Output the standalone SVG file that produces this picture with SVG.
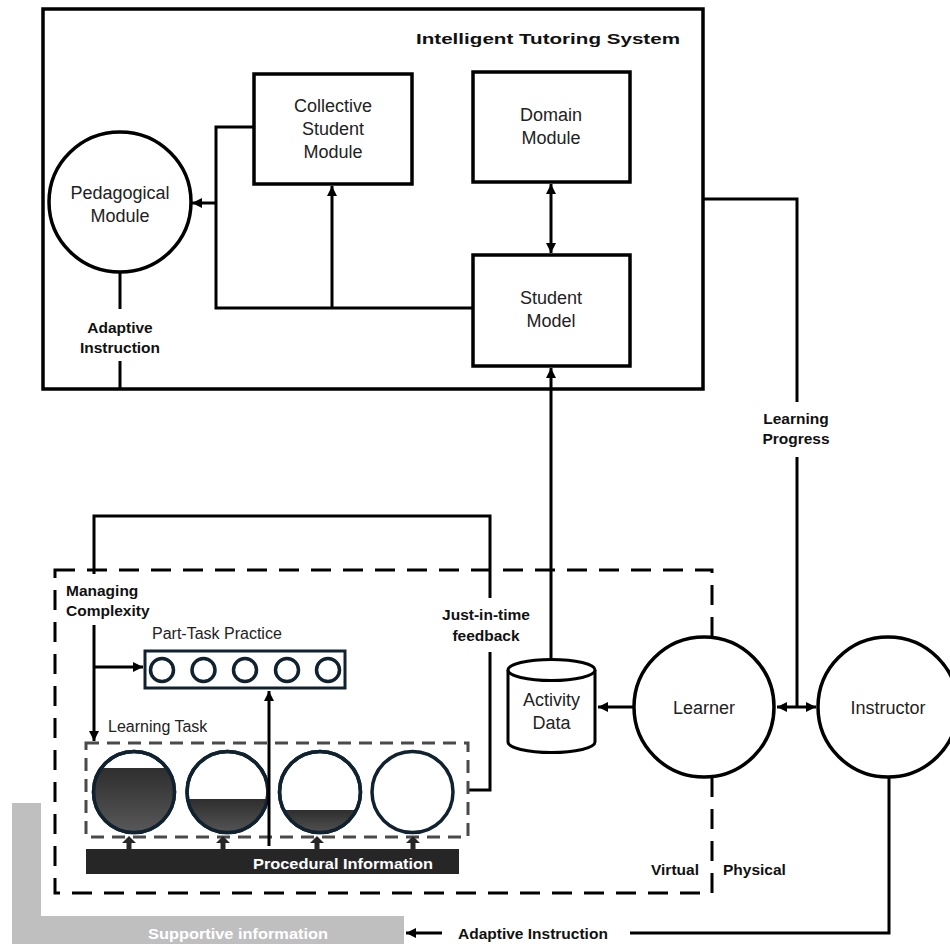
<svg xmlns="http://www.w3.org/2000/svg" width="950" height="944" viewBox="0 0 950 944">
  <defs>
    <style>
      .ln { fill: none; stroke: #000; stroke-width: 3; }
      .box { fill: #fff; stroke: #000; stroke-width: 3.5; }
      .t { font-family: "Liberation Sans", Arial, sans-serif; font-size: 18px; fill: #222; text-anchor: middle; }
      .b { font-family: "Liberation Sans", Arial, sans-serif; font-size: 15.5px; font-weight: bold; fill: #111; }
      .s { font-family: "Liberation Sans", Arial, sans-serif; font-size: 16px; fill: #222; }
      .c { text-anchor: middle; }
      .slate { fill: #fff; stroke: #10222f; stroke-width: 3.5; }
      .dash { fill: none; stroke: #000; stroke-width: 3; stroke-dasharray: 20 12; }
      .gdash { fill: none; stroke: #4a4a4a; stroke-width: 3; stroke-dasharray: 13 8; }
      .white { fill: #fff; }
    </style>
    <marker id="arr" viewBox="0 0 10 10" refX="10" refY="5" markerWidth="11" markerHeight="10" markerUnits="userSpaceOnUse" orient="auto-start-reverse">
      <path d="M0,0 L10,5 L0,10 z" fill="#000"/>
    </marker>
    <linearGradient id="fillGrad" x1="0" y1="0" x2="0" y2="1">
      <stop offset="0" stop-color="#2e2e2e"/>
      <stop offset="1" stop-color="#5c5c5c"/>
    </linearGradient>
    <clipPath id="c1"><circle cx="134" cy="792" r="40"/></clipPath>
    <clipPath id="c2"><circle cx="227.5" cy="792" r="40"/></clipPath>
    <clipPath id="c3"><circle cx="320" cy="792" r="40"/></clipPath>
  </defs>

  <!-- supportive information band -->
  <g id="supportive">
    <rect x="12" y="803" width="29" height="141" fill="#bfbfbf"/>
    <rect x="12" y="916" width="392" height="28" fill="#bfbfbf"/>
    <text class="b white" x="148" y="938.5" font-size="16" textLength="180" lengthAdjust="spacingAndGlyphs">Supportive information</text>
  </g>

  <!-- virtual environment boundary -->
  <g id="virtual-boundary">
    <rect class="dash" x="55" y="570" width="657" height="323"/>
  </g>

  <!-- intelligent tutoring system frame -->
  <g id="its">
    <rect x="43" y="9" width="660" height="380" fill="none" stroke="#000" stroke-width="3.5"/>
    <text class="b" x="680" y="44" font-size="20" text-anchor="end" textLength="264" lengthAdjust="spacingAndGlyphs">Intelligent Tutoring System</text>
  </g>

  <g id="connectors">
    <!-- inside ITS -->
    <path class="ln" d="M412,127 H216 V308 H473"/>
    <path class="ln" d="M216,203 H192" marker-end="url(#arr)"/>
    <path class="ln" d="M332,308 V186" marker-end="url(#arr)"/>
    <path class="ln" d="M551,184 V253" marker-start="url(#arr)" marker-end="url(#arr)"/>
    <path class="ln" d="M120,272 V309"/>
    <path class="ln" d="M120,361 V389"/>
    <!-- activity data to student model -->
    <path class="ln" d="M551,660 V368" marker-end="url(#arr)"/>
    <!-- learning progress -->
    <path class="ln" d="M703,199 H797 V402"/>
    <path class="ln" d="M797,457 V707"/>
    <path class="ln" d="M777,707 H816" marker-start="url(#arr)" marker-end="url(#arr)"/>
    <!-- learner to activity data -->
    <path class="ln" d="M634,707 H598" marker-end="url(#arr)"/>
    <!-- instructor adaptive instruction -->
    <path class="ln" d="M889,777 V933 H630"/>
    <path class="ln" d="M442,933 H406" marker-end="url(#arr)"/>
    <!-- feedback / managing complexity loop -->
    <path class="ln" d="M468,790 H490 V652"/>
    <path class="ln" d="M490,598 V516 H94 V574"/>
    <path class="ln" d="M94,625 V741" marker-end="url(#arr)"/>
    <path class="ln" d="M94,667 H143" marker-end="url(#arr)"/>
  </g>

  <g id="collective-student-module">
    <rect class="box" x="254" y="74" width="158" height="110"/>
    <text class="t" x="333" y="112">Collective</text>
    <text class="t" x="333" y="135">Student</text>
    <text class="t" x="333" y="158">Module</text>
  </g>

  <g id="domain-module">
    <rect class="box" x="473" y="72" width="157" height="110"/>
    <text class="t" x="551" y="121">Domain</text>
    <text class="t" x="551" y="144">Module</text>
  </g>

  <g id="student-model">
    <rect class="box" x="473" y="255" width="157" height="111"/>
    <text class="t" x="551" y="304">Student</text>
    <text class="t" x="551" y="327">Model</text>
  </g>

  <g id="pedagogical-module">
    <ellipse cx="120" cy="202" rx="71" ry="70" fill="#fff" stroke="#000" stroke-width="3.5"/>
    <text class="t" x="120" y="199">Pedagogical</text>
    <text class="t" x="120" y="222">Module</text>
  </g>

  <g id="label-adaptive-its">
    <text class="b c" x="120" y="333">Adaptive</text>
    <text class="b c" x="120" y="353">Instruction</text>
  </g>

  <g id="label-learning-progress">
    <text class="b c" x="796" y="424">Learning</text>
    <text class="b c" x="796" y="444">Progress</text>
  </g>

  <g id="label-managing">
    <text class="b" x="66" y="596">Managing</text>
    <text class="b" x="66" y="616">Complexity</text>
  </g>

  <g id="label-feedback">
    <text class="b c" x="486" y="619.5">Just-in-time</text>
    <text class="b c" x="486" y="640.5">feedback</text>
  </g>

  <g id="part-task-practice">
    <text class="s" x="152" y="638.5">Part-Task Practice</text>
    <rect x="145" y="651" width="200" height="37" fill="#fff" stroke="#10222f" stroke-width="3"/>
    <circle class="slate" cx="162" cy="670" r="11.5" stroke-width="3"/>
    <circle class="slate" cx="203.5" cy="670" r="11.5" stroke-width="3"/>
    <circle class="slate" cx="245" cy="670" r="11.5" stroke-width="3"/>
    <circle class="slate" cx="287" cy="670" r="11.5" stroke-width="3"/>
    <circle class="slate" cx="328" cy="670" r="11.5" stroke-width="3"/>
  </g>

  <g id="learning-task">
    <text class="s" x="108" y="731.5">Learning Task</text>
    <rect class="gdash" x="86" y="743" width="382" height="94"/>
    <circle class="slate" cx="134" cy="792" r="40.5"/>
    <rect x="90" y="768" width="90" height="70" fill="url(#fillGrad)" clip-path="url(#c1)"/>
    <circle cx="134" cy="792" r="40.5" fill="none" stroke="#10222f" stroke-width="3.5"/>
    <circle class="slate" cx="227.5" cy="792" r="40.5"/>
    <rect x="185" y="799" width="90" height="40" fill="url(#fillGrad)" clip-path="url(#c2)"/>
    <circle cx="227.5" cy="792" r="40.5" fill="none" stroke="#10222f" stroke-width="3.5"/>
    <circle class="slate" cx="320" cy="792" r="40.5"/>
    <rect x="278" y="810" width="90" height="30" fill="url(#fillGrad)" clip-path="url(#c3)"/>
    <circle cx="320" cy="792" r="40.5" fill="none" stroke="#10222f" stroke-width="3.5"/>
    <circle class="slate" cx="412.5" cy="792" r="40.5"/>
  </g>

  <g id="procedural-information">
    <rect x="86" y="849" width="373" height="25" fill="#262626"/>
    <path d="M122,843 L129,836 L136,843 L131.5,843 L131.5,849 L126.5,849 L126.5,843 z" fill="#262626"/>
    <path d="M216,843 L223,836 L230,843 L225.5,843 L225.5,849 L220.5,849 L220.5,843 z" fill="#262626"/>
    <path d="M310,843 L317,836 L324,843 L319.5,843 L319.5,849 L314.5,849 L314.5,843 z" fill="#262626"/>
    <path d="M406,843 L413,836 L420,843 L415.5,843 L415.5,849 L410.5,849 L410.5,843 z" fill="#262626"/>
    <text class="b white" x="253" y="868.5" font-size="16" textLength="180" lengthAdjust="spacingAndGlyphs">Procedural Information</text>
  </g>

  <!-- procedural information feeding part-task practice -->
  <g id="connector-part-task">
    <path class="ln" d="M269,846 V691" marker-end="url(#arr)"/>
  </g>

  <g id="activity-data">
    <path d="M508,670 V742 A43.5,10.5 0 0 0 595,742 V670" fill="#fff" stroke="#000" stroke-width="3"/>
    <ellipse cx="551.5" cy="670" rx="43.5" ry="10.5" fill="#fff" stroke="#000" stroke-width="3"/>
    <text class="t" x="551.5" y="706">Activity</text>
    <text class="t" x="551.5" y="729">Data</text>
  </g>

  <g id="learner">
    <circle cx="704" cy="707" r="70" fill="#fff" stroke="#000" stroke-width="3.5"/>
    <text class="t" x="704" y="713.5">Learner</text>
  </g>

  <g id="instructor">
    <circle cx="888" cy="707" r="70" fill="#fff" stroke="#000" stroke-width="3.5"/>
    <text class="t" x="888" y="713.5">Instructor</text>
  </g>

  <g id="boundary-labels">
    <text class="b" x="651" y="874.5">Virtual</text>
    <text class="b" x="723" y="874.5">Physical</text>
    <text class="b" x="458" y="938.5">Adaptive Instruction</text>
  </g>
</svg>
